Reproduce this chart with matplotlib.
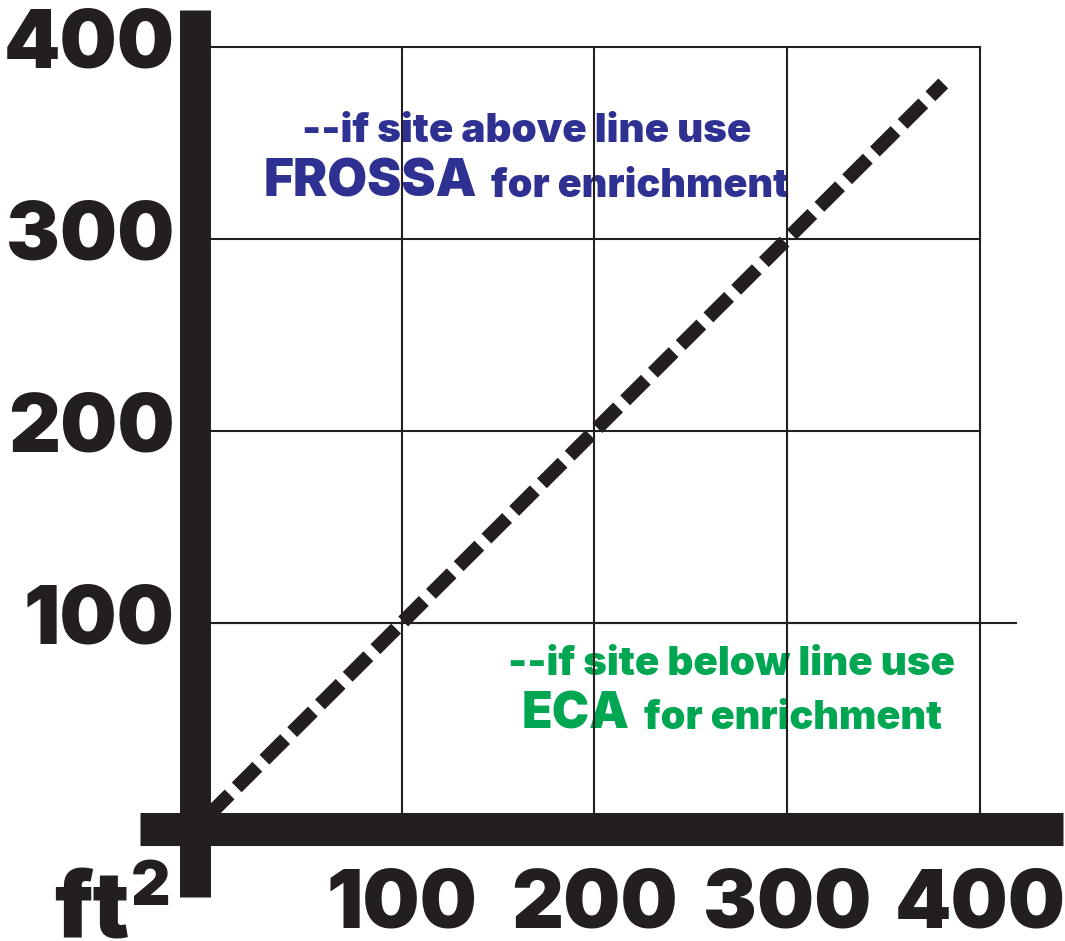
import matplotlib.pyplot as plt

# chart values
ticks = [100, 200, 300, 400]
tick_labels = ['100', '200', '300', '400']
line_x = [0, 381]
line_y = [0, 381]

dark = '#231f20'
blue = '#2e3192'
green = '#00a651'
fam = ['Inter', 'Roboto', 'DejaVu Sans']

plt.rcParams['lines.scale_dashes'] = False

fig = plt.figure(figsize=(10.65, 9.41), dpi=100)
ax = fig.add_axes([0.1962, 0.1339, 0.7239, 0.8162])
ax.set_xlim(0, 400)
ax.set_ylim(0, 400)

# thick axis bars
for s in ['top', 'right']:
    ax.spines[s].set_visible(False)
ax.spines['left'].set_position(('outward', 9.7))
ax.spines['left'].set_linewidth(22.3)
ax.spines['left'].set_bounds(-42.7, 419.3)
ax.spines['bottom'].set_position(('outward', 10.4))
ax.spines['bottom'].set_linewidth(23.8)
ax.spines['bottom'].set_bounds(-35.8, 443)
for s in ['left', 'bottom']:
    ax.spines[s].set_color(dark)
    ax.spines[s].set_capstyle('butt')

ax.set_xticks(ticks, tick_labels)
ax.set_yticks(ticks, tick_labels)
ax.tick_params(length=0, labelsize=58, labelcolor=dark)
ax.tick_params(axis='y', pad=15)
ax.tick_params(axis='x', pad=28)
for lab in ax.get_xticklabels() + ax.get_yticklabels():
    lab.set_fontweight('black')
    lab.set_family(fam)
for lab in ax.get_yticklabels():
    lab.set_va('center')

ax.grid(True, color=dark, linewidth=1.5, clip_on=False)
ax.axhline(100, xmin=0, xmax=1.047, color=dark, linewidth=1.5, clip_on=False, zorder=1.5)

# diagonal dashed line
ax.plot(line_x, line_y, color=dark, linewidth=10, dashes=(21, 7.2), zorder=2)

# annotations
ax.text(164.7, 350.5, '--if site above line use', color=blue, fontsize=29,
        fontweight='black', family=fam, ha='center', va='baseline', zorder=1)
ax.text(139.2, 321.9, 'FROSSA', color=blue, fontsize=37,
        fontweight='black', family=fam, ha='right', va='baseline', zorder=1)
ax.text(146.5, 321.9, 'for enrichment', color=blue, fontsize=28.5,
        fontweight='black', family=fam, ha='left', va='baseline', zorder=1)

ax.text(270.9, 72.9, '--if site below line use', color=green, fontsize=29,
        fontweight='black', family=fam, ha='center', va='baseline', zorder=1)
ax.text(218.2, 44.8, 'ECA', color=green, fontsize=36,
        fontweight='black', family=fam, ha='right', va='baseline', zorder=1)
ax.text(225.5, 44.8, 'for enrichment', color=green, fontsize=28.5,
        fontweight='black', family=fam, ha='left', va='baseline', zorder=1)

# unit label
fig.text(129 / 1065, 4 / 941, 'ft', color=dark, fontsize=66, fontweight='black',
         family=fam, ha='right', va='baseline')
fig.text(131 / 1065, 36 / 941, '2', color=dark, fontsize=44, fontweight='black',
         family=fam, ha='left', va='baseline')

fig.savefig('out.png', dpi=100)
